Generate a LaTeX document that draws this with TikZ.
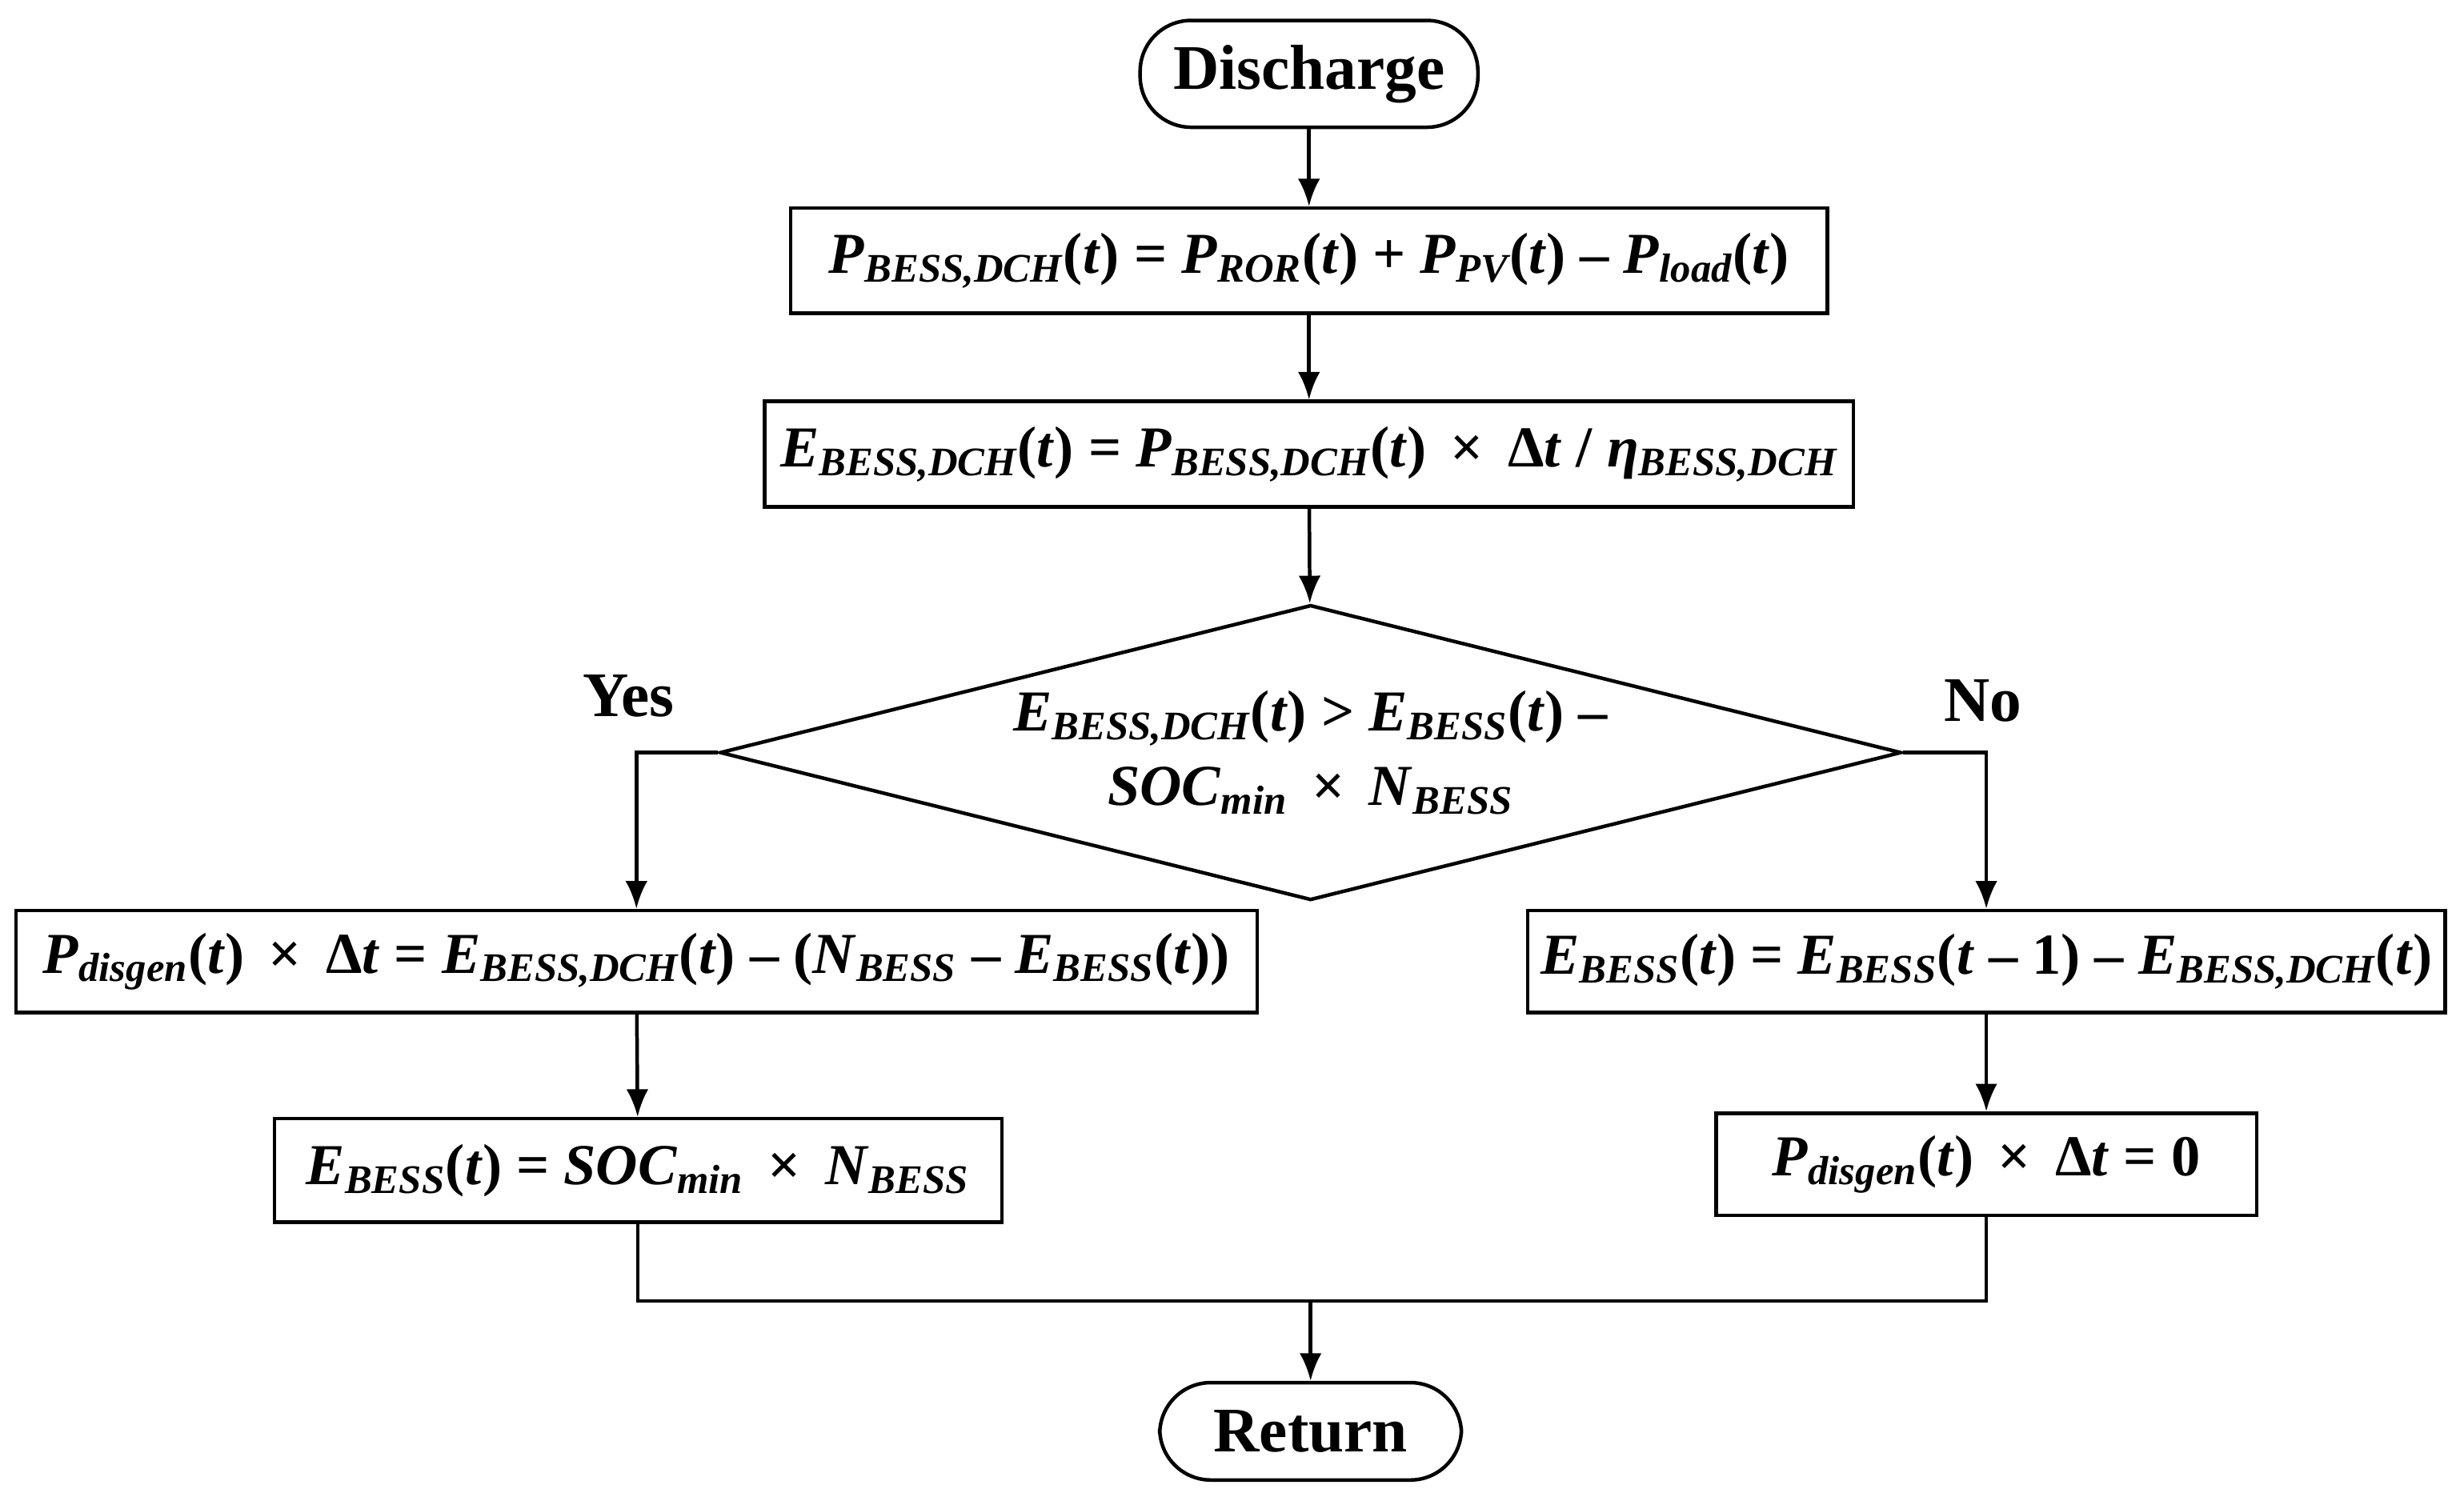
\documentclass[tikz,border=0pt]{standalone}
\usepackage{fontspec}
\setmainfont{Liberation Serif}
\usetikzlibrary{shapes.geometric,arrows.meta}
%% variable with subscript
\newcommand{\vr}[2]{\textit{#1}\textsubscript{\itshape #2}}
\begin{document}
\begin{tikzpicture}[x=0.02cm,y=-0.02cm,%%
  boxStyle/.style={draw,line width=1.3pt,inner sep=2pt,font=\fontsize{21}{25}\selectfont\bfseries},%%
  termStyle/.style={boxStyle,rounded corners=0.65cm,font=\fontsize{23}{27}\selectfont\bfseries},%%
  decStyle/.style={boxStyle,diamond,aspect=4,inner sep=0pt,minimum width=15.04cm,minimum height=3.76cm},%%
  arrowStyle/.style={-{Latex[length=10pt,width=8pt]},line width=1.3pt},%%
  lineStyle/.style={-,line width=1.3pt},%%
  labelStyle/.style={font=\fontsize{23}{27}\selectfont\bfseries}%%
]
\useasboundingbox (0,0) rectangle (1568,960);
%%
%% Terminators and process boxes.
\node[termStyle,minimum width=4.3cm,minimum height=1.36cm] (start) at (833,47) {Discharge};
\node[boxStyle,minimum width=13.2cm,minimum height=1.34cm] (pdch) at (833,166)
  {\vr{P}{BESS,DCH}(\textit{t}) = \vr{P}{ROR}(\textit{t}) + \vr{P}{PV}(\textit{t}) – \vr{P}{load}(\textit{t})};
\node[boxStyle,minimum width=13.86cm,minimum height=1.34cm] (edch) at (833,289)
  {\vr{E}{BESS,DCH}(\textit{t}) = \vr{P}{BESS,DCH}(\textit{t}) \,×\, Δ\textit{t} / \vr{η}{BESS,DCH}};
%% Decision.
\node[decStyle,align=center] (dec) at (834,479)
  {\vr{E}{BESS,DCH}(\textit{t}) > \vr{E}{BESS}(\textit{t}) –\\[2pt] \vr{SOC}{min} \,×\, \vr{N}{BESS}};
\node[labelStyle] (yes) at (400,443) {Yes};
\node[labelStyle] (no) at (1262,446) {No};
%% Left branch.
\node[boxStyle,minimum width=15.8cm,minimum height=1.3cm] (gen) at (405,612)
  {\vr{P}{disgen}(\textit{t}) \,×\, Δ\textit{t} = \vr{E}{BESS,DCH}(\textit{t}) – (\vr{N}{BESS} – \vr{E}{BESS}(\textit{t}))};
\node[boxStyle,minimum width=9.26cm,minimum height=1.32cm] (emin) at (406,745)
  {\vr{E}{BESS}(\textit{t}) = \vr{SOC}{min} \,×\, \vr{N}{BESS}};
%% Right branch.
\node[boxStyle,minimum width=11.68cm,minimum height=1.3cm] (eupd) at (1264,612)
  {\vr{E}{BESS}(\textit{t}) = \vr{E}{BESS}(\textit{t} – 1) – \vr{E}{BESS,DCH}(\textit{t})};
\node[boxStyle,minimum width=6.88cm,minimum height=1.3cm] (nogen) at (1264,741)
  {\vr{P}{disgen}(\textit{t}) \,×\, Δ\textit{t} = 0};
%% Return.
\node[termStyle,minimum width=3.84cm,minimum height=1.24cm] (ret) at (834,911) {Return};
\coordinate (merge) at (834,828);
%%
%% Connectors.
\draw[arrowStyle] (start) -- (pdch);
\draw[arrowStyle] (pdch) -- (edch);
\draw[arrowStyle] (edch) -- (dec);
\draw[arrowStyle] (dec.west) -| (gen.north);
\draw[arrowStyle] (dec.east) -| (eupd.north);
\draw[arrowStyle] (gen) -- (emin);
\draw[arrowStyle] (eupd) -- (nogen);
\draw[lineStyle] (emin.south) |- (merge);
\draw[lineStyle] (nogen.south) |- (merge);
\draw[arrowStyle] (merge) -- (ret);
\end{tikzpicture}
\end{document}
